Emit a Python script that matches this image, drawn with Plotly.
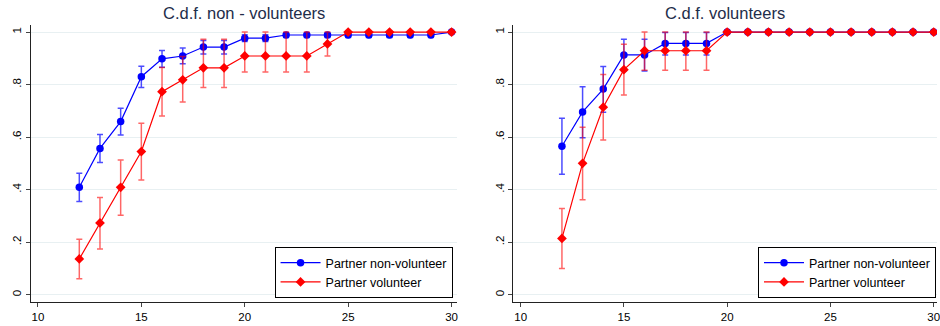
import plotly.graph_objects as go

# ---------------- data ----------------
x_vals = list(range(12, 31))

# Left panel: C.d.f. non - volunteers
left_nonvol = [0.409, 0.557, 0.659, 0.830, 0.898, 0.909, 0.943, 0.943, 0.977, 0.977,
               0.989, 0.989, 0.989, 0.989, 0.989, 0.989, 0.989, 0.989, 1.0]
left_nonvol_hi = [0.462, 0.610, 0.710, 0.870, 0.930, 0.939, 0.968, 0.968, 0.990, 0.990,
                  0.997, 0.997, 0.997, 0.997, 0.997, 0.997, 0.997, 0.997, 1.0]
left_nonvol_lo = [0.355, 0.503, 0.608, 0.789, 0.866, 0.879, 0.917, 0.917, 0.964, 0.964,
                  0.979, 0.979, 0.979, 0.979, 0.979, 0.979, 0.979, 0.979, 1.0]

left_vol = [0.136, 0.273, 0.409, 0.545, 0.773, 0.818, 0.864, 0.864, 0.909, 0.909,
            0.909, 0.909, 0.955, 1.0, 1.0, 1.0, 1.0, 1.0, 1.0]
left_vol_hi = [0.211, 0.370, 0.513, 0.653, 0.865, 0.907, 0.973, 0.973, 1.0, 1.0,
               1.0, 1.0, 1.0, 1.0, 1.0, 1.0, 1.0, 1.0, 1.0]
left_vol_lo = [0.061, 0.174, 0.302, 0.437, 0.680, 0.734, 0.789, 0.789, 0.848, 0.848,
               0.848, 0.848, 0.909, 1.0, 1.0, 1.0, 1.0, 1.0, 1.0]

# Right panel: C.d.f. volunteers
right_nonvol = [0.565, 0.696, 0.783, 0.913, 0.913, 0.957, 0.957, 0.957, 1.0, 1.0,
                1.0, 1.0, 1.0, 1.0, 1.0, 1.0, 1.0, 1.0, 1.0]
right_nonvol_hi = [0.672, 0.792, 0.869, 0.973, 0.973, 0.998, 0.998, 0.998, 1.0, 1.0,
                   1.0, 1.0, 1.0, 1.0, 1.0, 1.0, 1.0, 1.0, 1.0]
right_nonvol_lo = [0.459, 0.598, 0.695, 0.852, 0.852, 0.913, 0.913, 0.913, 1.0, 1.0,
                   1.0, 1.0, 1.0, 1.0, 1.0, 1.0, 1.0, 1.0, 1.0]

right_vol = [0.214, 0.500, 0.714, 0.857, 0.929, 0.929, 0.929, 0.929, 1.0, 1.0,
             1.0, 1.0, 1.0, 1.0, 1.0, 1.0, 1.0, 1.0, 1.0]
right_vol_hi = [0.328, 0.638, 0.838, 0.954, 1.0, 1.0, 1.0, 1.0, 1.0, 1.0,
                1.0, 1.0, 1.0, 1.0, 1.0, 1.0, 1.0, 1.0, 1.0]
right_vol_lo = [0.100, 0.361, 0.589, 0.760, 0.855, 0.855, 0.855, 0.855, 1.0, 1.0,
                1.0, 1.0, 1.0, 1.0, 1.0, 1.0, 1.0, 1.0, 1.0]

titles = ["C.d.f. non - volunteers", "C.d.f. volunteers"]
series_names = ["Partner non-volunteer", "Partner volunteer"]
x_ticks = [10, 15, 20, 25, 30]
y_tickvals = [0, 0.2, 0.4, 0.6, 0.8, 1]
y_ticktext = ["0", ".2", ".4", ".6", ".8", "1"]

# ---------------- figure ----------------
W, H = 940, 326
BLUE = "#0000ff"
RED = "#ff0000"
FONT = "Liberation Sans, Arial, Helvetica, sans-serif"

fig = go.Figure()

panels = [
    (left_nonvol, left_nonvol_hi, left_nonvol_lo, left_vol, left_vol_hi, left_vol_lo, "x", "y", "legend"),
    (right_nonvol, right_nonvol_hi, right_nonvol_lo, right_vol, right_vol_hi, right_vol_lo, "x2", "y2", "legend2"),
]

for (nv, nvh, nvl, v, vh, vl, xa, ya, lg) in panels:
    fig.add_trace(go.Scatter(
        x=x_vals, y=nv, mode="lines+markers", name=series_names[0],
        line=dict(color=BLUE, width=1.2),
        marker=dict(symbol="circle", size=7.5, color=BLUE),
        error_y=dict(type="data", symmetric=False,
                     array=[h - m for h, m in zip(nvh, nv)],
                     arrayminus=[m - l for m, l in zip(nv, nvl)],
                     color="rgba(0,0,255,0.7)", thickness=1.5, width=3),
        xaxis=xa, yaxis=ya, legend=lg,
    ))
    fig.add_trace(go.Scatter(
        x=x_vals, y=v, mode="lines+markers", name=series_names[1],
        line=dict(color=RED, width=1.2),
        marker=dict(symbol="diamond", size=7.5, color=RED),
        error_y=dict(type="data", symmetric=False,
                     array=[h - m for h, m in zip(vh, v)],
                     arrayminus=[m - l for m, l in zip(v, vl)],
                     color="rgba(255,0,0,0.6)", thickness=1.5, width=3),
        xaxis=xa, yaxis=ya, legend=lg,
    ))

top_px, bot_px = 25, 302
ydom = [1 - bot_px / H, 1 - top_px / H]
left_dom = [31 / W, 458 / W]
right_dom = [515 / W, 1.0]

axis_common = dict(
    showline=True, linecolor="#222222", linewidth=1.3,
    ticks="outside", ticklen=4, tickcolor="#444444", tickwidth=1,
    tickfont=dict(family=FONT, size=11.5, color="#000000"),
    zeroline=False, mirror=False, ticklabeloverflow="allow",
)

legend_common = dict(
    xanchor="right", yanchor="bottom",
    bgcolor="white", bordercolor="#000000", borderwidth=1,
    font=dict(family=FONT, size=12.5, color="#000000"),
    tracegroupgap=0, itemwidth=40,
)

fig.update_layout(
    width=W, height=H,
    margin=dict(l=0, r=0, t=0, b=0),
    paper_bgcolor="white", plot_bgcolor="white",
    font=dict(family=FONT, color="#000000"),
    xaxis=dict(domain=left_dom, anchor="y", range=[9.66, 30.24],
               tickvals=x_ticks, showgrid=False, **axis_common),
    yaxis=dict(domain=ydom, anchor="x", range=[-0.028, 1.027],
               tickvals=y_tickvals, ticktext=y_ticktext, tickangle=-90,
               showgrid=True, gridcolor="#e8f0f2", gridwidth=1, **axis_common),
    xaxis2=dict(domain=right_dom, anchor="y2", range=[9.648, 30.16],
                tickvals=x_ticks, showgrid=False, **axis_common),
    yaxis2=dict(domain=ydom, anchor="x2", range=[-0.028, 1.027],
                tickvals=y_tickvals, ticktext=y_ticktext, tickangle=-90,
                showgrid=True, gridcolor="#e8f0f2", gridwidth=1, **axis_common),
    legend=dict(x=454 / W, y=1 - 298 / H, **legend_common),
    legend2=dict(x=939 / W, y=1 - 298 / H, **legend_common),
    showlegend=True,
)

for dom, t in zip([left_dom, right_dom], titles):
    fig.add_annotation(
        text=t, x=(dom[0] + dom[1]) / 2, y=1 - 13 / H, xref="paper", yref="paper",
        xanchor="center", yanchor="middle", showarrow=False,
        font=dict(family=FONT, size=16.5, color="#1e2d4a"),
    )

fig.write_html(
    "out.html",
    config={"displayModeBar": False},
    post_script="document.body.style.margin='0';document.body.style.overflow='hidden';",
)
